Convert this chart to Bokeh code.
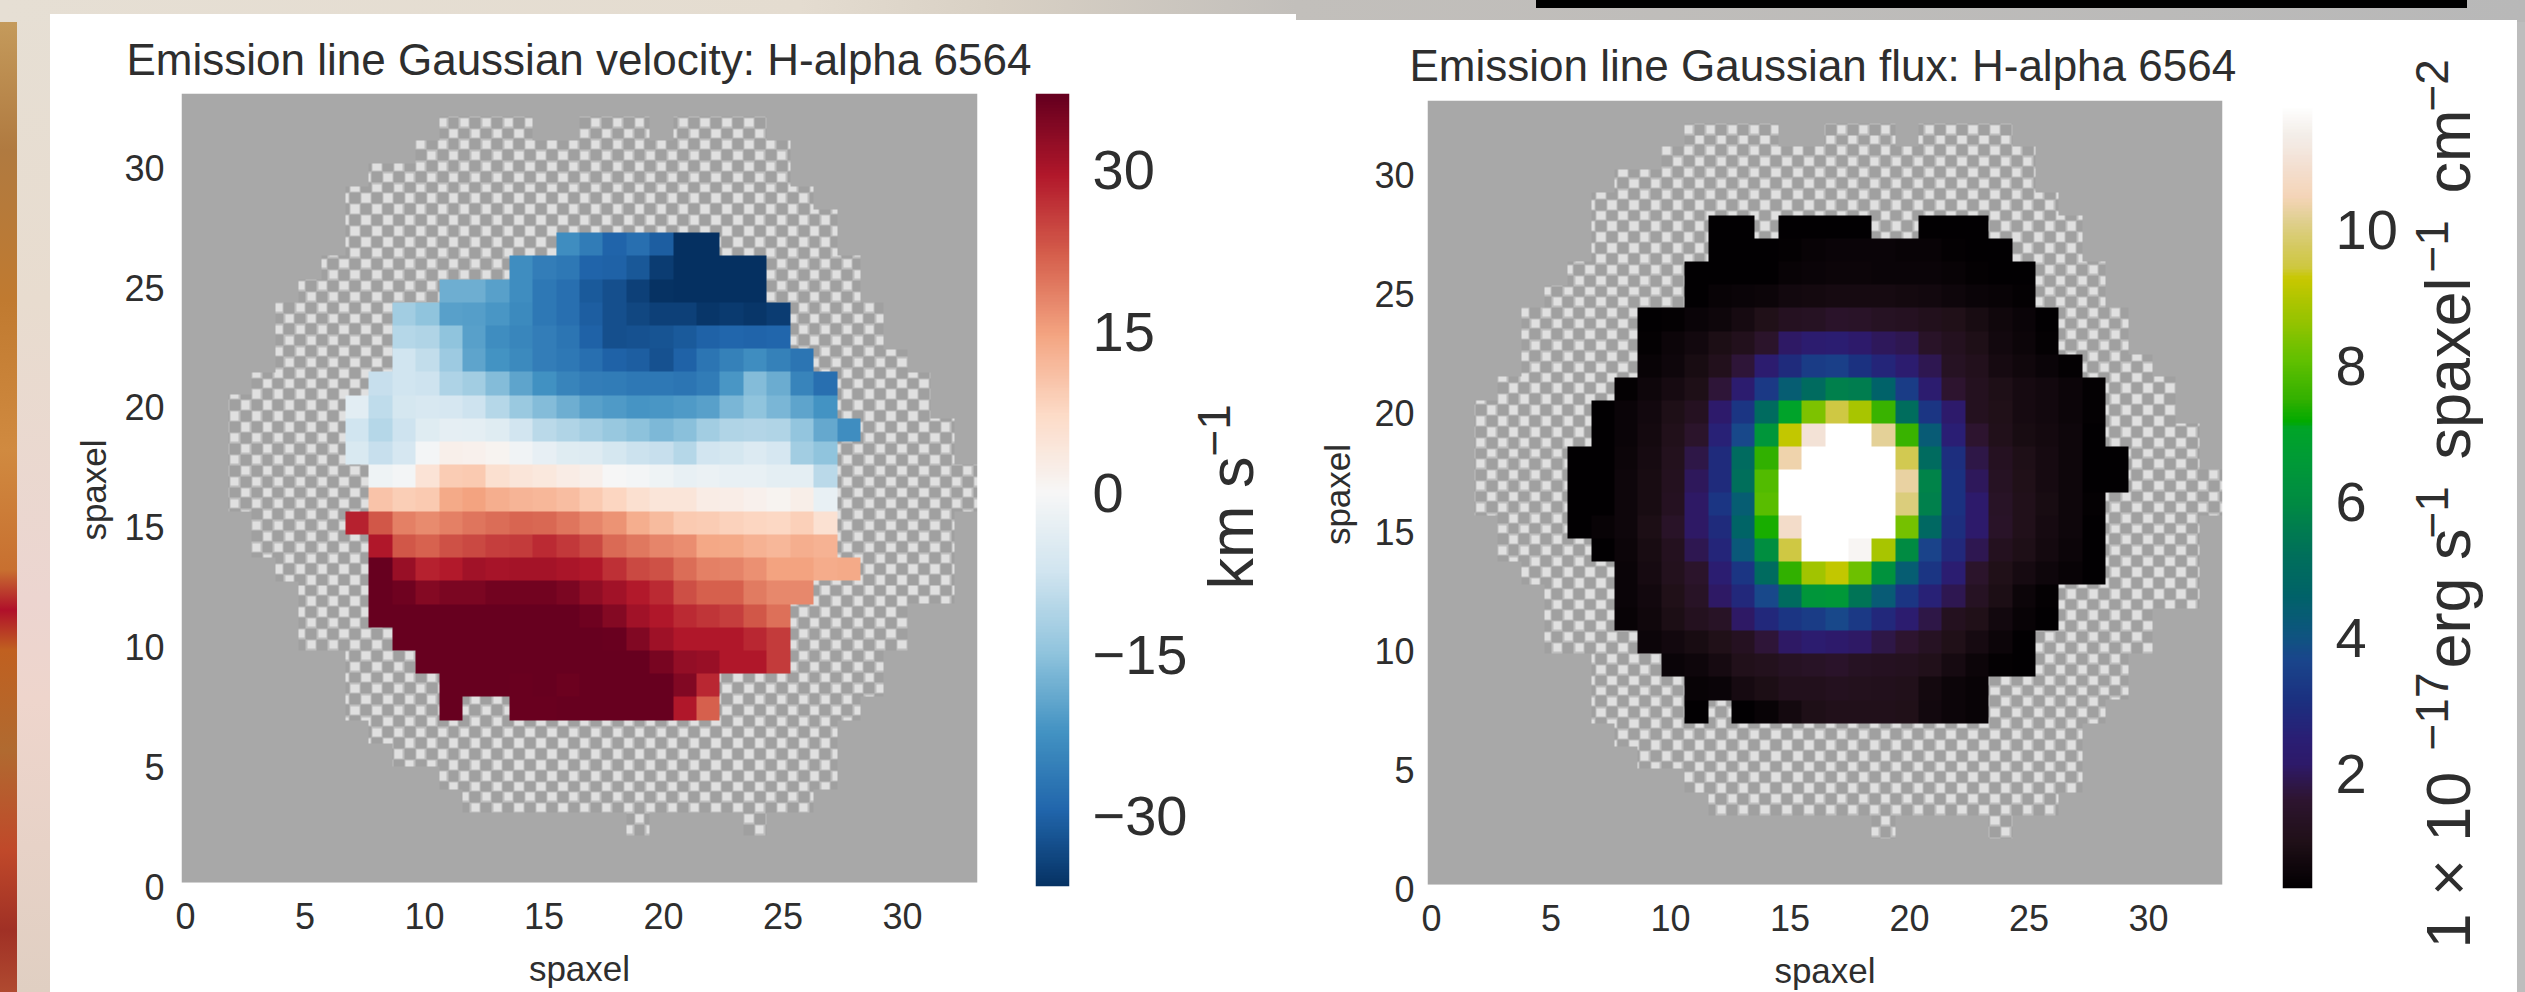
import numpy as np
from bokeh.embed import file_html
from bokeh.resources import INLINE
from bokeh.plotting import figure
from bokeh.layouts import row, column
from bokeh.core.properties import value
from bokeh.models import (Spacer, LinearColorMapper, FixedTicker, Range1d,
                          GlobalInlineStyleSheet)

N = 34
FONT = "Liberation Sans"
INK = "#2e2e2e"
PAGE_H = 992

# ---------- velocity map: km/s, one list per spaxel row (start column, values) ----------
vel_27 = (16, [-23, -26, -29.6, -28, -30.5, -37, -37])
vel_26 = (14, [-23, -25.5, -26.5, -29.6, -30, -31.5, -35, -37, -37, -37, -37])
vel_25 = (11, [-18, -18, -20, -23, -26.5, -28, -31, -32.5, -34.5, -36.5, -37, -37, -37, -37])
vel_24 = (9, [-13, -15, -20, -20.5, -21.5, -23.5, -26.5, -28, -30.5, -32.5, -33.8, -34.5, -34.5, -36, -35.5, -36, -35])
vel_23 = (9, [-10.5, -11, -15, -20, -23, -24, -25.5, -27, -30, -32.5, -32.3, -32, -31, -30, -29.3, -29.5, -29.3])
vel_22 = (9, [-7.5, -9, -13.5, -19.5, -22, -23.5, -25.5, -26.5, -28, -30, -30.5, -32.3, -30, -27, -25, -23, -25, -27])
vel_21 = (8, [-8.5, -7.3, -7.6, -11.5, -13, -16, -19.5, -22.3, -24.5, -25.5, -26, -26.5, -26.5, -27, -26, -21.5, -16, -18.5, -24.5, -28])
vel_20 = (7, [-4, -9.5, -6.5, -6, -6.3, -7.8, -10.5, -13.7, -16, -18, -20, -21, -21.7, -21.5, -21, -20, -17, -15, -17, -19.5, -22])
vel_19 = (7, [-7.5, -10.5, -7.7, -4.6, -3.3, -3.6, -4.6, -7, -10, -11, -12.5, -14, -15.3, -16.5, -15.5, -13, -11, -10.8, -11, -14.5, -18.8, -23])
vel_18 = (7, [-5.5, -8.5, -6.3, -0.7, 2, 1.5, 1, -1.2, -3, -4.5, -4.8, -6.5, -8, -8.5, -10.5, -7, -6.5, -5, -6.3, -13, -14.8])
vel_17 = (8, [-1.5, -0.8, 5, 9.5, 9.7, 6, 4.5, 4, 2.8, 1.8, -0.2, -0.8, -1.5, -2.7, -2.2, -2.8, -2.8, -3.5, -3.5, -10])
vel_16 = (8, [10.5, 9, 9.8, 14, 15, 13.5, 12.7, 12.3, 11.5, 9.8, 8, 6, 4.5, 4.5, 2.8, 2.4, 1.6, 1, 2.2, -2.7])
vel_15 = (7, [28.5, 23, 18.5, 17.5, 18.6, 19.7, 20.8, 21.5, 21.3, 19.7, 18, 16.5, 13.5, 11.7, 9.7, 9.5, 8.5, 8, 7.8, 8.7, 5.7])
vel_14 = (8, [29.6, 23, 21.7, 23.5, 24.5, 25.5, 26, 27.5, 26.3, 24.3, 21, 19.5, 18, 17.2, 14.3, 14, 13, 12.3, 13.5, 13])
vel_13 = (8, [37, 32, 28.5, 29.3, 31, 30.5, 30.7, 30.8, 30.2, 29.7, 27, 24.3, 23.7, 20.8, 18.6, 18.3, 17, 15, 15, 13.8, 14])
vel_12 = (8, [37, 36, 34, 34.8, 34.8, 35.7, 35.8, 35.8, 34.8, 32.8, 31, 29.3, 27.5, 23.8, 22, 22, 19.3, 17.7, 17.7])
vel_11 = (8, [37, 37, 37, 37, 37, 37, 37, 37, 37, 36, 34, 31, 29.5, 27.7, 26.5, 25.5, 23, 20.5])
vel_10 = (9, [37, 37, 37, 37, 37, 37, 37, 37, 37, 36.5, 34.2, 31.3, 29.7, 29.7, 29.5, 28, 26])
vel_9 = (10, [37, 37, 37, 37, 36.8, 37, 37, 37, 37, 37, 35, 32.5, 32, 29.7, 29.7, 26])
vel_8 = (11, [37, 37, 37, 36.5, 37, 36.4, 37, 37, 37, 37, 34.2, 28])
vel_7 = (11, [37, None, None, 36.5, 36.5, 37, 37, 37, 37, 37, 29.5, 22])
vel_rows = {27: vel_27, 26: vel_26, 25: vel_25, 24: vel_24, 23: vel_23, 22: vel_22, 21: vel_21,
            20: vel_20, 19: vel_19, 18: vel_18, 17: vel_17, 16: vel_16, 15: vel_15, 14: vel_14,
            13: vel_13, 12: vel_12, 11: vel_11, 10: vel_10, 9: vel_9, 8: vel_8, 7: vel_7}

# ---------- flux map: 1e-17 erg/s/spaxel/cm2 ----------
flux_28 = (12, [.3, .3, None, .3, .35, .3, .3, None, None, .3, .3, .3])
flux_27 = (12, [.3, .3, .3, .4, .45, .5, .5, .5, .45, .45, .4, .35, .3])
flux_26 = (11, [.3, .3, .3, .35, .45, .5, .55, .55, .5, .5, .5, .45, .4, .35, .3])
flux_25 = (11, [.3, .45, .5, .55, .7, .75, .8, .8, .8, .75, .7, .6, .5, .45, .4])
flux_24 = (9, [.35, .4, .5, .6, .8, 1.0, 1.25, 1.3, 1.45, 1.4, 1.3, 1.25, 1.1, 1.0, .85, .65, .5, .3])
flux_23 = (9, [.4, .55, .7, .9, 1.1, 1.5, 2.1, 2.3, 2.4, 2.2, 2.0, 1.9, 1.4, 1.2, .95, .7, .55, .4])
flux_22 = (9, [.45, .6, .85, 1.1, 1.7, 2.3, 2.9, 3.4, 3.5, 3.1, 2.7, 2.3, 1.9, 1.3, 1.1, .8, .65, .5, .4])
flux_21 = (8, [.4, .6, .8, .95, 1.7, 2.3, 3.3, 4.4, 5.0, 5.7, 5.6, 4.6, 3.4, 2.3, 1.6, 1.2, .95, .8, .7, .55, .4])
flux_20 = (7, [.35, .5, .7, .95, 1.25, 2.2, 3.2, 5.0, 7.0, 8.4, 9.5, 8.9, 7.6, 5.1, 3.2, 2.2, 1.2, 1.0, .8, .7, .55, .4])
flux_19 = (7, [.35, .5, .75, 1.05, 1.5, 2.6, 3.7, 6.4, 9.2, 11.0, 12, 12, 10.2, 7.6, 4.3, 2.5, 1.6, 1.05, .85, .75, .6, .3])
flux_18 = (6, [.3, .35, .55, .8, 1.15, 1.8, 2.9, 5.0, 7.5, 10.4, 12, 12, 12, 12, 9.6, 5.0, 3.0, 1.8, 1.25, .95, .8, .6, .35, .3])
flux_17 = (6, [.3, .35, .6, .85, 1.2, 2.0, 2.9, 5.2, 7.9, 12, 12, 12, 12, 12, 10.3, 5.8, 3.1, 2.0, 1.3, 1.0, .8, .6, .35, .3])
flux_16 = (6, [.3, .35, .6, .85, 1.25, 2.1, 3.2, 4.4, 8.0, 12, 12, 12, 12, 12, 10.0, 5.7, 3.1, 2.2, 1.35, 1.05, .85, .6, .4])
flux_15 = (6, [.3, .45, .6, .9, 1.4, 2.1, 2.9, 4.7, 7.3, 10.8, 12, 12, 12, 12, 8.3, 4.9, 3.0, 2.2, 1.4, 1.05, .8, .6, .35])
flux_14 = (7, [.35, .55, .85, 1.2, 1.9, 2.7, 4.2, 6.1, 9.5, 12, 12, 11.6, 8.9, 6.0, 3.6, 2.8, 1.9, 1.2, .95, .75, .55, .35])
flux_13 = (8, [.5, .8, 1.15, 1.5, 2.4, 3.2, 5.0, 7.5, 8.8, 9.2, 8.2, 6.3, 4.4, 3.2, 2.4, 1.5, 1.0, .8, .6, .45, .3])
flux_12 = (8, [.5, .7, 1.0, 1.35, 2.1, 2.8, 3.7, 5.0, 6.4, 6.5, 5.4, 4.3, 3.2, 2.6, 1.9, 1.3, .9, .55, .4])
flux_11 = (8, [.45, .65, .9, 1.2, 1.35, 2.1, 2.8, 3.2, 3.4, 3.7, 3.3, 2.8, 2.3, 1.8, 1.2, 1.0, .7, .45, .3])
flux_10 = (9, [.55, .7, .85, 1.0, 1.25, 1.7, 2.1, 2.3, 2.2, 2.1, 1.8, 1.6, 1.3, 1.0, .8, .55, .3])
flux_9 = (10, [.5, .6, .8, 1.05, 1.15, 1.3, 1.35, 1.45, 1.3, 1.25, 1.2, 1.05, .8, .55, .4, .3])
flux_8 = (11, [.45, .5, .8, .9, 1.1, 1.1, 1.2, 1.15, 1.1, 1.05, .75, .55, .45])
flux_7 = (11, [.35, None, .3, .45, .75, .95, 1.05, 1.05, 1.05, 1.0, .7, .55, .45])
flux_rows = {28: flux_28, 27: flux_27, 26: flux_26, 25: flux_25, 24: flux_24, 23: flux_23, 22: flux_22,
             21: flux_21, 20: flux_20, 19: flux_19, 18: flux_18, 17: flux_17, 16: flux_16, 15: flux_15,
             14: flux_14, 13: flux_13, 12: flux_12, 11: flux_11, 10: flux_10, 9: flux_9, 8: flux_8, 7: flux_7}

# ---------- hatched (low S/N) spaxels: spans of columns per row, counted from the top ----------
hatch_spans = {
    1: [(11, 14), (17, 19), (21, 24)], 2: [(10, 25)], 3: [(8, 25)], 4: [(7, 26)], 5: [(7, 27)], 6: [(7, 27)],
    7: [(6, 28)], 8: [(5, 28)], 9: [(4, 29)], 10: [(4, 29)], 11: [(4, 30)], 12: [(3, 31)], 13: [(2, 31)],
    14: [(2, 32)], 15: [(2, 32)], 16: [(2, 33)], 17: [(2, 33)], 18: [(3, 32)], 19: [(3, 32)], 20: [(4, 32)],
    21: [(5, 32)], 22: [(5, 30)], 23: [(5, 30)], 24: [(7, 29)], 25: [(7, 29)], 26: [(7, 28)], 27: [(8, 27)],
    28: [(9, 27)], 29: [(11, 27)], 30: [(12, 26)], 31: [(19, 19), (24, 24)],
}

# ---------- ticks and titles ----------
map_ticks = [0, 5, 10, 15, 20, 25, 30]
vel_ticks = [-30, -15, 0, 15, 30]
flux_ticks = [2, 4, 6, 8, 10]
vel_title = "Emission line Gaussian velocity: H-alpha 6564"
flux_title = "Emission line Gaussian flux: H-alpha 6564"

# ---------- colour maps ----------
vel_stop_colors = ["#053061", "#2166ac", "#4393c3", "#92c5de", "#d1e5f0", "#f7f7f7",
                   "#fddbc7", "#f4a582", "#d6604d", "#b2182b", "#67001f"]
vel_low, vel_high = -37.0, 37.0
flux_stop_values = [.31, .97, 1.59, 2.12, 2.5, 3.04, 3.65, 4.03, 4.64, 5.33, 5.95, 6.56, 7.09, 7.17,
                    7.47, 8.08, 8.7, 9.3, 9.46, 9.77, 10.15, 10.5, 11.07, 11.45, 11.85]
flux_stop_colors = ["#020002", "#201018", "#2e1530", "#2e1a6a", "#2a1f75", "#1c3080", "#1a468c", "#0f5580",
                    "#006368", "#007358", "#008a44", "#009a38", "#00a528", "#00aa00", "#2fb000", "#60c000",
                    "#98c400", "#c8c800", "#cfc840", "#d5ca60", "#e0d090", "#f5d5b8", "#f3e3d8", "#f4efea",
                    "#ffffff"]

# ---------- colour-bar label pieces ----------
vel_label_parts = [("km s", 1230, 589, "63px"), ("\u22121", 1213, 456, "46px")]
flux_label_parts = [("1 \u00d7 10", 2447, 948, "63px"), ("\u221217", 2431, 750, "46px"),
                    ("erg s", 2447, 668, "63px"), ("\u22121", 2431, 538, "46px"),
                    ("spaxel", 2447, 459, "63px"), ("\u22121", 2431, 272, "46px"),
                    ("cm", 2447, 193, "63px"), ("\u22122", 2431, 111, "46px")]


def rgb(c):
    return [int(c[i:i + 2], 16) for i in (1, 3, 5)]


def make_palette(values, colors, n=256):
    t = np.linspace(values[0], values[-1], n)
    arr = np.array([rgb(c) for c in colors], float)
    chan = [np.interp(t, values, arr[:, k]) for k in range(3)]
    return ["#%02x%02x%02x" % (int(r), int(g), int(b)) for r, g, b in zip(*chan)]


vel_palette = make_palette(list(np.linspace(vel_low, vel_high, 11)), vel_stop_colors)
flux_palette = make_palette(flux_stop_values, flux_stop_colors)


def to_grid(rows):
    g = np.full((N, N), np.nan)
    for r, (start, vals) in rows.items():
        for i, v in enumerate(vals):
            if v is not None:
                g[r, start + i] = v
    return g


def mask_layer(w, h):
    """Grey frame with the light checker hatch on the IFU footprint (pixel-sized RGBA)."""
    img = np.zeros((h, w, 4), dtype=np.uint8)
    img[..., :3] = 168
    img[..., 3] = 255
    yy, xx = np.mgrid[0:h, 0:w]
    cx = (xx + .5) * N / w
    cy = (yy + .5) * N / h
    inside = np.zeros((h, w), bool)
    for rt, spans in hatch_spans.items():
        for a, b in spans:
            inside |= (cy >= rt) & (cy < rt + 1) & (cx >= a) & (cx < b + 1)
    pitch = 10.94
    u = (xx + .5 - 272) / pitch
    v = (yy + .5 - 40) / pitch
    iu, iv = np.round(u), np.round(v)
    even = (iu + iv) % 2 == 0
    du, dv = np.abs(u - iu), np.abs(v - iv)
    light = even & (du < .38) & (dv < .38)
    halo = even & ~light & (du < .5) & (dv < .5)
    dark = inside & ~light & ~halo
    img[dark, :3] = 160
    img[inside & halo, :3] = 190
    img[inside & light, :3] = 224
    return img[::-1].copy().view(np.uint32).reshape(h, w)


def map_figure(title, grid, low, high, palette, fig_w, frame_w, frame_h, left, top, bottom, title_x, ylabel_off,
               ytick_off, title_off):
    x0, x1 = -0.167, frame_w / 23.9 - 0.167
    img_off = 4
    frame_total = frame_h + img_off
    ppu = 24.08
    y1 = frame_total / ppu
    p = figure(width=fig_w, height=top + frame_total + bottom, x_range=(x0, x1), y_range=(0, y1),
               output_backend="svg", toolbar_location=None,
               min_border_left=left, min_border_right=fig_w - left - frame_w,
               min_border_top=top, min_border_bottom=bottom)
    p.outline_line_color = None
    p.border_fill_color = "white"
    p.background_fill_color = "white"
    p.grid.visible = False
    mapper = LinearColorMapper(palette=palette, low=low, high=high, nan_color="rgba(0,0,0,0)")
    im_y, im_h = img_off / ppu, y1 - img_off / ppu
    p.image_rgba(image=[mask_layer(frame_w, frame_h)], x=x0, y=im_y, dw=x1 - x0, dh=im_h)
    p.image(image=[grid], x=x0, y=im_y, dw=x1 - x0, dh=im_h, color_mapper=mapper)
    p.title.text = title
    p.title.text_font = FONT
    p.title.text_font_size = "44px"
    p.title.text_font_style = "normal"
    p.title.text_color = INK
    p.title.offset = title_x
    p.title.standoff = title_off
    for ax in (p.xaxis[0], p.yaxis[0]):
        ax.ticker = FixedTicker(ticks=map_ticks)
        ax.axis_line_color = None
        ax.major_tick_line_color = None
        ax.minor_tick_line_color = None
        ax.major_label_text_font = FONT
        ax.major_label_text_font_size = "36px"
        ax.major_label_text_color = INK
        ax.axis_label = "spaxel"
        ax.axis_label_text_font = FONT
        ax.axis_label_text_font_size = "35px"
        ax.axis_label_text_font_style = "normal"
        ax.axis_label_text_color = INK
    p.xaxis[0].major_label_standoff = 10
    p.yaxis[0].major_label_standoff = ytick_off
    p.xaxis[0].axis_label_standoff = 17
    p.yaxis[0].axis_label_standoff = ylabel_off
    return p


def bar_figure(low, high, ticks, overrides, cmap_low, cmap_high, palette, fig_w, left, frame_w, frame_h, top, bottom):
    p = figure(width=fig_w, height=top + frame_h + bottom, x_range=(0, 1), y_range=(low, high),
               output_backend="svg", toolbar_location=None, x_axis_location=None, y_axis_location="right",
               min_border_left=left, min_border_right=fig_w - left - frame_w,
               min_border_top=top, min_border_bottom=bottom)
    p.outline_line_color = None
    p.border_fill_color = "white"
    p.grid.visible = False
    ramp = np.linspace(low, high, 512).reshape(-1, 1)
    mapper = LinearColorMapper(palette=palette, low=cmap_low, high=cmap_high)
    p.image(image=[ramp], x=0, y=low, dw=1, dh=high - low, color_mapper=mapper)
    ax = p.yaxis[0]
    ax.ticker = FixedTicker(ticks=ticks)
    ax.major_label_overrides = overrides
    ax.axis_line_color = None
    ax.major_tick_line_color = None
    ax.minor_tick_line_color = None
    ax.major_label_text_font = FONT
    ax.major_label_text_font_size = "56px"
    ax.major_label_text_color = INK
    ax.major_label_standoff = 17
    return p


def label_figure(parts, x_start, x_end, y_top):
    """Narrow white strip holding the rotated colour-bar label, with superscripts as real text."""
    p = figure(width=x_end - x_start, height=PAGE_H - y_top,
               x_range=Range1d(x_start, x_end), y_range=Range1d(PAGE_H, y_top),
               output_backend="svg", toolbar_location=None, x_axis_location=None, y_axis_location=None,
               min_border=0, min_border_left=0, min_border_right=0, min_border_top=0, min_border_bottom=0)
    p.outline_line_color = None
    p.border_fill_color = "white"
    p.grid.visible = False
    for text, x, y, size in parts:
        p.text(x=[x], y=[y], text=[text], angle=np.pi / 2, text_font=value(FONT), text_font_size=value(size),
               text_color=INK, text_baseline="alphabetic", text_align="left")
    return p


# ---------- left panel: x 50..1296, y 14..992 ----------
main1 = map_figure(vel_title, to_grid(vel_rows), vel_low, vel_high, vel_palette, 985, 796, 793, 131, 79, 102,
                   -55, 8, 11, 19)
cb1 = bar_figure(-36.5, 37.1, vel_ticks, {-30: "\u221230", -15: "\u221215", 0: "0", 15: "15", 30: "30"},
                 vel_low, vel_high, vel_palette, 155, 0, 41, 793, 79, 106)
lab1 = label_figure(vel_label_parts, 1190, 1296, 14)

# ---------- right panel: x 1296..2517, y 20..992 ----------
main2 = map_figure(flux_title, to_grid(flux_rows), flux_stop_values[0], flux_stop_values[-1], flux_palette,
                   949, 795, 794, 131, 80, 94, -18, 14, 7, 21)
cb2 = bar_figure(.31, 11.9, flux_ticks, {2: "2", 4: "4", 6: "6", 8: "8", 10: "10"},
                 flux_stop_values[0], flux_stop_values[-1], flux_palette, 155, 37, 40, 794, 80, 98)
lab2 = label_figure(flux_label_parts, 2400, 2517, 20)

# ---------- the page behind the two panels (a photo shows at the edges) ----------
css = """
html{height:100%}
body{background:
 linear-gradient(#000,#000) 1536px 0/931px 8px no-repeat,
 linear-gradient(to right,#e6dfd4 0,#e4dcd0 800px,#d8d0c4 1000px,#c2bfbb 1296px,#b8b8b8 2525px) 0 0/2525px 22px no-repeat,
 linear-gradient(to bottom,#c8a060 0,#b07a40 150px,#c07a30 300px,#d08a40 450px,#c87030 570px,#b0102a 610px,#c06020 650px,#b06a30 750px,#c0492a 850px,#a03025 930px,#b04a30 992px) 0 0/17px 992px no-repeat,
 linear-gradient(to bottom,#e6dfd4 0,#e8dccf 300px,#ecd5d0 600px,#eed5cc 700px,#e0cfc2 992px) 17px 0/33px 992px no-repeat,
 #bdbdbd;}
"""
white = {"background": "white"}
root = row(Spacer(width=50, height=10),
           column(Spacer(width=10, height=14), row(row(main1, cb1), column(lab1), styles=white)),
           column(Spacer(width=10, height=20), row(row(main2, cb2), column(lab2), styles=white)))
root.stylesheets = [GlobalInlineStyleSheet(css=css)]

open("out.html", "w").write(file_html(root, INLINE))
